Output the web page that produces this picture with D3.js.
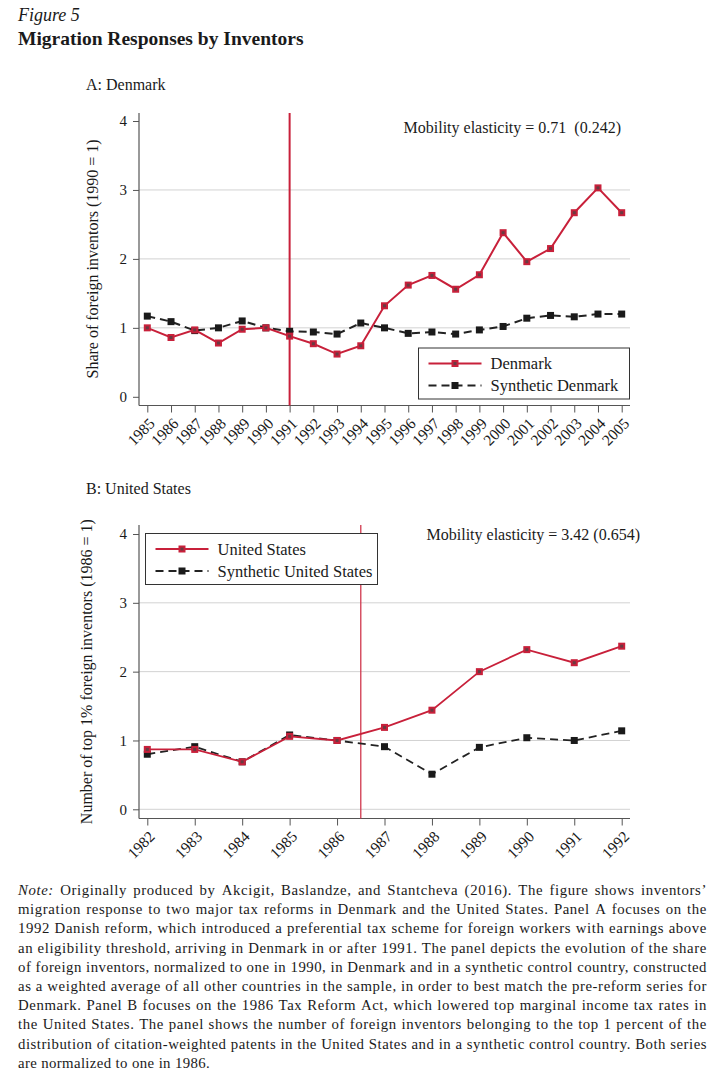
<!DOCTYPE html>
<html>
<head>
<meta charset="utf-8">
<script src="https://cdn.jsdelivr.net/npm/d3@7"></script>
<style>
  body { margin: 0; background: #fff; }
  svg text { font-family: "Liberation Serif", "Times New Roman", serif; fill: #1a1a1a; }
</style>
</head>
<body>
<div id="chart"></div>
<script>
// Panel A: Denmark
var yearsA = [1985, 1986, 1987, 1988, 1989, 1990, 1991, 1992, 1993, 1994, 1995,
              1996, 1997, 1998, 1999, 2000, 2001, 2002, 2003, 2004, 2005];
var denmark = [1.00, 0.86, 0.97, 0.78, 0.98, 1.00, 0.88, 0.77, 0.62, 0.74, 1.32,
               1.62, 1.76, 1.56, 1.77, 2.38, 1.96, 2.15, 2.67, 3.03, 2.67];
var synthDenmark = [1.17, 1.09, 0.96, 1.00, 1.10, 1.00, 0.95, 0.94, 0.91, 1.07, 1.00,
                    0.92, 0.94, 0.91, 0.97, 1.02, 1.14, 1.18, 1.16, 1.20, 1.20];

// Panel B: United States
var yearsB = [1982, 1983, 1984, 1985, 1986, 1987, 1988, 1989, 1990, 1991, 1992];
var unitedStates = [0.87, 0.87, 0.69, 1.06, 1.00, 1.19, 1.44, 2.00, 2.32, 2.13, 2.37];
var synthUS = [0.80, 0.91, 0.69, 1.08, 1.00, 0.91, 0.51, 0.90, 1.04, 1.00, 1.14];

var yTicks = [0, 1, 2, 3, 4];

var noteLines = [
  "Note: Originally produced by Akcigit, Baslandze, and Stantcheva (2016). The figure shows inventors’",
  "migration response to two major tax reforms in Denmark and the United States. Panel A focuses on the",
  "1992 Danish reform, which introduced a preferential tax scheme for foreign workers with earnings above",
  "an eligibility threshold, arriving in Denmark in or after 1991. The panel depicts the evolution of the share",
  "of foreign inventors, normalized to one in 1990, in Denmark and in a synthetic control country, constructed",
  "as a weighted average of all other countries in the sample, in order to best match the pre-reform series for",
  "Denmark. Panel B focuses on the 1986 Tax Reform Act, which lowered top marginal income tax rates in",
  "the United States. The panel shows the number of foreign inventors belonging to the top 1 percent of the",
  "distribution of citation-weighted patents in the United States and in a synthetic control country. Both series",
  "are normalized to one in 1986."
];

var RED = "#c8203a", DARK = "#1a1a1a";

var svg = d3.select("#chart").append("svg")
    .attr("width", 724)
    .attr("height", 1083);

// headings
svg.append("text").attr("x", 18).attr("y", 21)
    .style("font-style", "italic").style("font-size", "18px").text("Figure 5");
svg.append("text").attr("x", 18).attr("y", 45)
    .style("font-weight", "bold").style("font-size", "19.5px").text("Migration Responses by Inventors");

function drawPanel(opt) {
    var g = svg.append("g");

    var x = d3.scaleLinear().domain(opt.xDomain).range([147.3, 621.7]);
    var y = d3.scaleLinear().domain([0, 4]).range([opt.y0, opt.y4]);

    g.append("text").attr("x", 86).attr("y", opt.titleY)
        .style("font-size", "16px").text(opt.title);

    // grid lines
    g.selectAll(".grid")
        .data(opt.grid)
        .enter()
        .append("line")
        .attr("x1", 139).attr("x2", 630)
        .attr("y1", function (d) { return y(d); })
        .attr("y2", function (d) { return y(d); })
        .attr("stroke", "#d2d2d2").attr("stroke-width", 1);

    // axes
    var yAxis = g.append("g").attr("transform", "translate(139,0)")
        .call(d3.axisLeft(y).tickValues(yTicks).tickSize(6).tickPadding(6).tickFormat(d3.format("d")));
    yAxis.select(".domain").remove();
    yAxis.selectAll("line").attr("stroke", "#555");
    yAxis.selectAll("text").style("font-size", "15px").attr("fill", DARK);
    g.append("line").attr("x1", 139).attr("x2", 139)
        .attr("y1", opt.top).attr("y2", opt.axisY)
        .attr("stroke", "#555").attr("stroke-width", 1.2);

    var xAxis = g.append("g").attr("transform", "translate(0," + opt.axisY + ")")
        .call(d3.axisBottom(x).tickValues(opt.years).tickSize(7).tickFormat(d3.format("d")));
    xAxis.select(".domain").remove();
    xAxis.selectAll("line").attr("stroke", "#555");
    xAxis.selectAll("text")
        .attr("x", 0).attr("y", 0).attr("dy", 0)
        .attr("transform", "translate(8,19)rotate(-45)")
        .style("text-anchor", "end")
        .style("font-size", "15.5px")
        .attr("fill", DARK);
    g.append("line").attr("x1", 139).attr("x2", 630)
        .attr("y1", opt.axisY).attr("y2", opt.axisY)
        .attr("stroke", "#555").attr("stroke-width", 1.2);

    // y label
    g.append("text")
        .attr("transform", "translate(" + opt.labelX + "," + ((opt.y0 + opt.y4) / 2) + ")rotate(-90)")
        .attr("dy", "0.35em")
        .style("text-anchor", "middle")
        .style("font-size", "16px")
        .text(opt.yLabel);

    // reform line
    g.append("line")
        .attr("x1", x(opt.reform)).attr("x2", x(opt.reform))
        .attr("y1", opt.top).attr("y2", opt.axisY)
        .attr("stroke", opt.reformColor).attr("stroke-width", opt.reformWidth);

    var line = d3.line()
        .x(function (d) { return x(d[0]); })
        .y(function (d) { return y(d[1]); });

    var synthPts = opt.years.map(function (d, i) { return [d, opt.synth[i]]; });
    var mainPts = opt.years.map(function (d, i) { return [d, opt.main[i]]; });

    g.append("path").datum(synthPts).attr("d", line)
        .attr("fill", "none").attr("stroke", "#222").attr("stroke-width", opt.lw)
        .attr("stroke-dasharray", "8,5");
    g.selectAll(".sq").data(synthPts).enter().append("rect")
        .attr("x", function (d) { return x(d[0]) - 3.5; })
        .attr("y", function (d) { return y(d[1]) - 3.5; })
        .attr("width", 7).attr("height", 7).attr("fill", DARK);

    g.append("path").datum(mainPts).attr("d", line)
        .attr("fill", "none").attr("stroke", RED).attr("stroke-width", opt.lw);
    g.selectAll(".rq").data(mainPts).enter().append("rect")
        .attr("x", function (d) { return x(d[0]) - 3.5; })
        .attr("y", function (d) { return y(d[1]) - 3.5; })
        .attr("width", 7).attr("height", 7).attr("fill", RED);
    g.selectAll(".rqi").data(mainPts).enter().append("rect")
        .attr("x", function (d) { return x(d[0]) - 1.5; })
        .attr("y", function (d) { return y(d[1]) - 1.5; })
        .attr("width", 3).attr("height", 3).attr("fill", "#6a3a42");

    // elasticity note
    g.append("text").attr("x", opt.elastX).attr("y", opt.elastY)
        .style("text-anchor", "end").style("font-size", "16px")
        .attr("xml:space", "preserve")
        .text(opt.elast);

    // legend
    var L = opt.legend;
    g.append("rect").attr("x", L.x).attr("y", L.y).attr("width", L.w).attr("height", L.h)
        .attr("fill", "#fff").attr("stroke", "#333").attr("stroke-width", 1);
    var rows = [
        { name: opt.names[0], color: RED, dash: null, inner: true },
        { name: opt.names[1], color: "#222", dash: "8,5", inner: false }
    ];
    rows.forEach(function (r, i) {
        var ry = L.y + 15.5 + i * 22;
        var lx1 = L.x + 10, lx2 = L.x + 63;
        g.append("line").attr("x1", lx1).attr("x2", lx2).attr("y1", ry).attr("y2", ry)
            .attr("stroke", r.color).attr("stroke-width", 2)
            .attr("stroke-dasharray", r.dash);
        g.append("rect").attr("x", (lx1 + lx2) / 2 - 3.5).attr("y", ry - 3.5)
            .attr("width", 7).attr("height", 7).attr("fill", r.inner ? RED : DARK);
        if (r.inner) {
            g.append("rect").attr("x", (lx1 + lx2) / 2 - 1.5).attr("y", ry - 1.5)
                .attr("width", 3).attr("height", 3).attr("fill", "#6a3a42");
        }
        g.append("text").attr("x", L.x + 72).attr("y", ry + 5.5)
            .style("font-size", "16.5px").text(r.name);
    });
}

drawPanel({
    title: "A: Denmark", titleY: 90,
    xDomain: [1985, 2005], years: yearsA,
    y0: 396.8, y4: 121, top: 113, axisY: 405.5,
    grid: [1, 2, 3],
    yLabel: "Share of foreign inventors (1990 = 1)", labelX: 92,
    reform: 1991, reformColor: RED, reformWidth: 2,
    main: denmark, synth: synthDenmark, lw: 2,
    names: ["Denmark", "Synthetic Denmark"],
    elast: "Mobility elasticity = 0.71  (0.242)", elastX: 621, elastY: 133,
    legend: { x: 418.5, y: 348, w: 211, h: 51 }
});

drawPanel({
    title: "B: United States", titleY: 494,
    xDomain: [1982, 1992], years: yearsB,
    y0: 809.3, y4: 534, top: 525, axisY: 818.5,
    grid: [0, 1, 2, 3],
    yLabel: "Number of top 1% foreign inventors (1986 = 1)", labelX: 86,
    reform: 1986.5, reformColor: "#d0384e", reformWidth: 1.3,
    main: unitedStates, synth: synthUS, lw: 1.8,
    names: ["United States", "Synthetic United States"],
    elast: "Mobility elasticity = 3.42 (0.654)", elastX: 640, elastY: 540,
    legend: { x: 145.5, y: 533.5, w: 232, h: 51 }
});

// justified note paragraph: extra room goes partly into letter spacing, rest into word gaps
var noteLeft = 18, noteRight = 707, noteTop = 895, noteStep = 19.2, noteSize = "14.8px";
var measure = svg.append("text").style("font-size", noteSize);
function wordWidth(w, italic) {
    measure.style("font-style", italic ? "italic" : "normal").text(w);
    return measure.node().getComputedTextLength();
}
var spaceW = wordWidth("a b") - wordWidth("ab");
noteLines.forEach(function (ln, li) {
    var words = ln.split(" ");
    var widths = words.map(function (w, i) { return wordWidth(w, li === 0 && i === 0); });
    var nChars = d3.sum(words, function (w) { return w.length; });
    var total = d3.sum(widths);
    var avail = noteRight - noteLeft;
    var last = li === noteLines.length - 1;
    var ls, gap;
    if (last) {
        ls = 0.35; gap = spaceW + 0.5;
    } else {
        ls = Math.max(0, Math.min(0.6, (avail - total - (words.length - 1) * spaceW * 1.15) / nChars));
        gap = (avail - total - nChars * ls) / (words.length - 1);
    }
    var t = svg.append("text").attr("y", noteTop + li * noteStep)
        .style("font-size", noteSize).style("letter-spacing", ls + "px");
    var cx = noteLeft;
    words.forEach(function (w, i) {
        t.append("tspan").attr("x", cx)
            .style("font-style", li === 0 && i === 0 ? "italic" : "normal")
            .text(w);
        cx += widths[i] + w.length * ls + gap;
    });
});
measure.remove();
</script>
</body>
</html>
